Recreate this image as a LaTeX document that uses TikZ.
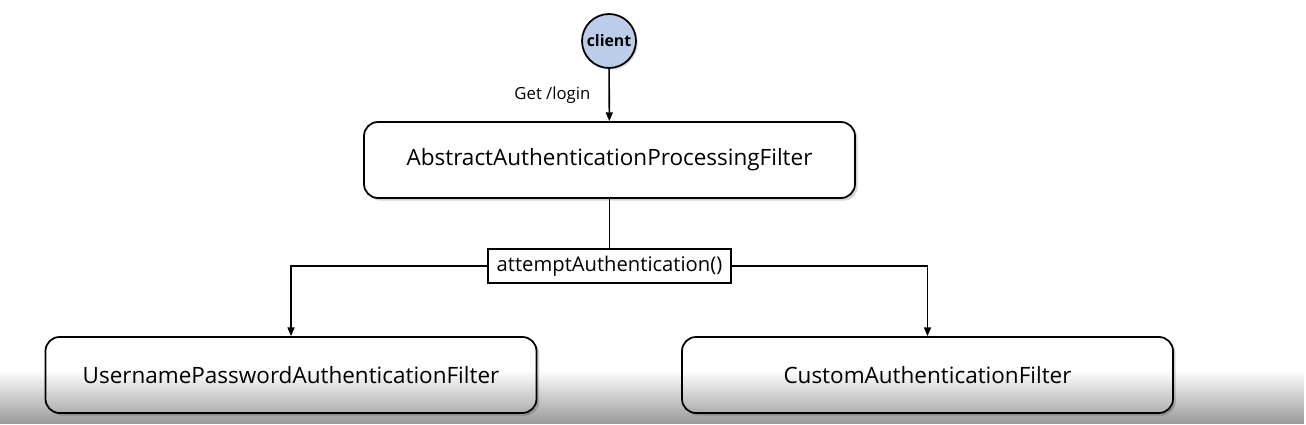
\documentclass[tikz,border=0pt]{standalone}
\usepackage{fontspec}
\setmainfont{Open Sans}
\usetikzlibrary{shapes,arrows.meta,positioning,shadows,fadings}
\definecolor{clientblue}{RGB}{188,205,234}

\begin{document}
\begin{tikzpicture}[
    filterbox/.style={rectangle, draw, fill=white, line width=1pt, rounded corners=8pt, minimum width=9.82cm, minimum height=1.52cm, align=center, font=\fontsize{12.8}{15}\selectfont, drop shadow={shadow xshift=1.5pt, shadow yshift=-1.5pt, opacity=0.35}},
    methodbox/.style={rectangle, draw, fill=white, line width=0.6pt, minimum width=4.86cm, minimum height=0.68cm, inner sep=2pt, font=\fontsize{11.5}{13}\selectfont},
    arrow/.style={-{Triangle[length=5pt, width=4pt]}, line width=0.9pt}
]
    % Rahmen
    \useasboundingbox (0, 0) rectangle (26.12, 8.48);

    % Client
    \node[circle, draw, line width=1pt, fill=clientblue, minimum size=1.08cm, inner sep=0pt, font=\fontsize{9}{10}\selectfont\bfseries, drop shadow={shadow xshift=1pt, shadow yshift=-1pt, opacity=0.3}] (client) at (12.18, 7.66) {client};

    % Filter
    \node[filterbox] (abstract) at (12.19, 5.28) {AbstractAuthenticationProcessingFilter};
    \node[filterbox] (username) at (5.82, 0.98) {UsernamePasswordAuthenticationFilter};
    \node[filterbox] (custom) at (18.55, 0.98) {CustomAuthenticationFilter};

    % Methode
    \node[methodbox] (attempt) at (12.19, 3.16) {attemptAuthentication()};

    % Pfeile
    \draw[arrow] (client) -- node[left=7pt, font=\fontsize{9.5}{11}\selectfont] (getlogin) {Get /login} (abstract);
    \draw[line width=1pt] (abstract) -- (attempt);
    \draw[arrow] (attempt.west) -| (username.north);
    \draw[arrow] (attempt.east) -| (custom.north);

    % Verlauf unten
    \fill[black, opacity=0.4, path fading=north] (0, 0) rectangle (26.12, 1.08);
\end{tikzpicture}
\end{document}
